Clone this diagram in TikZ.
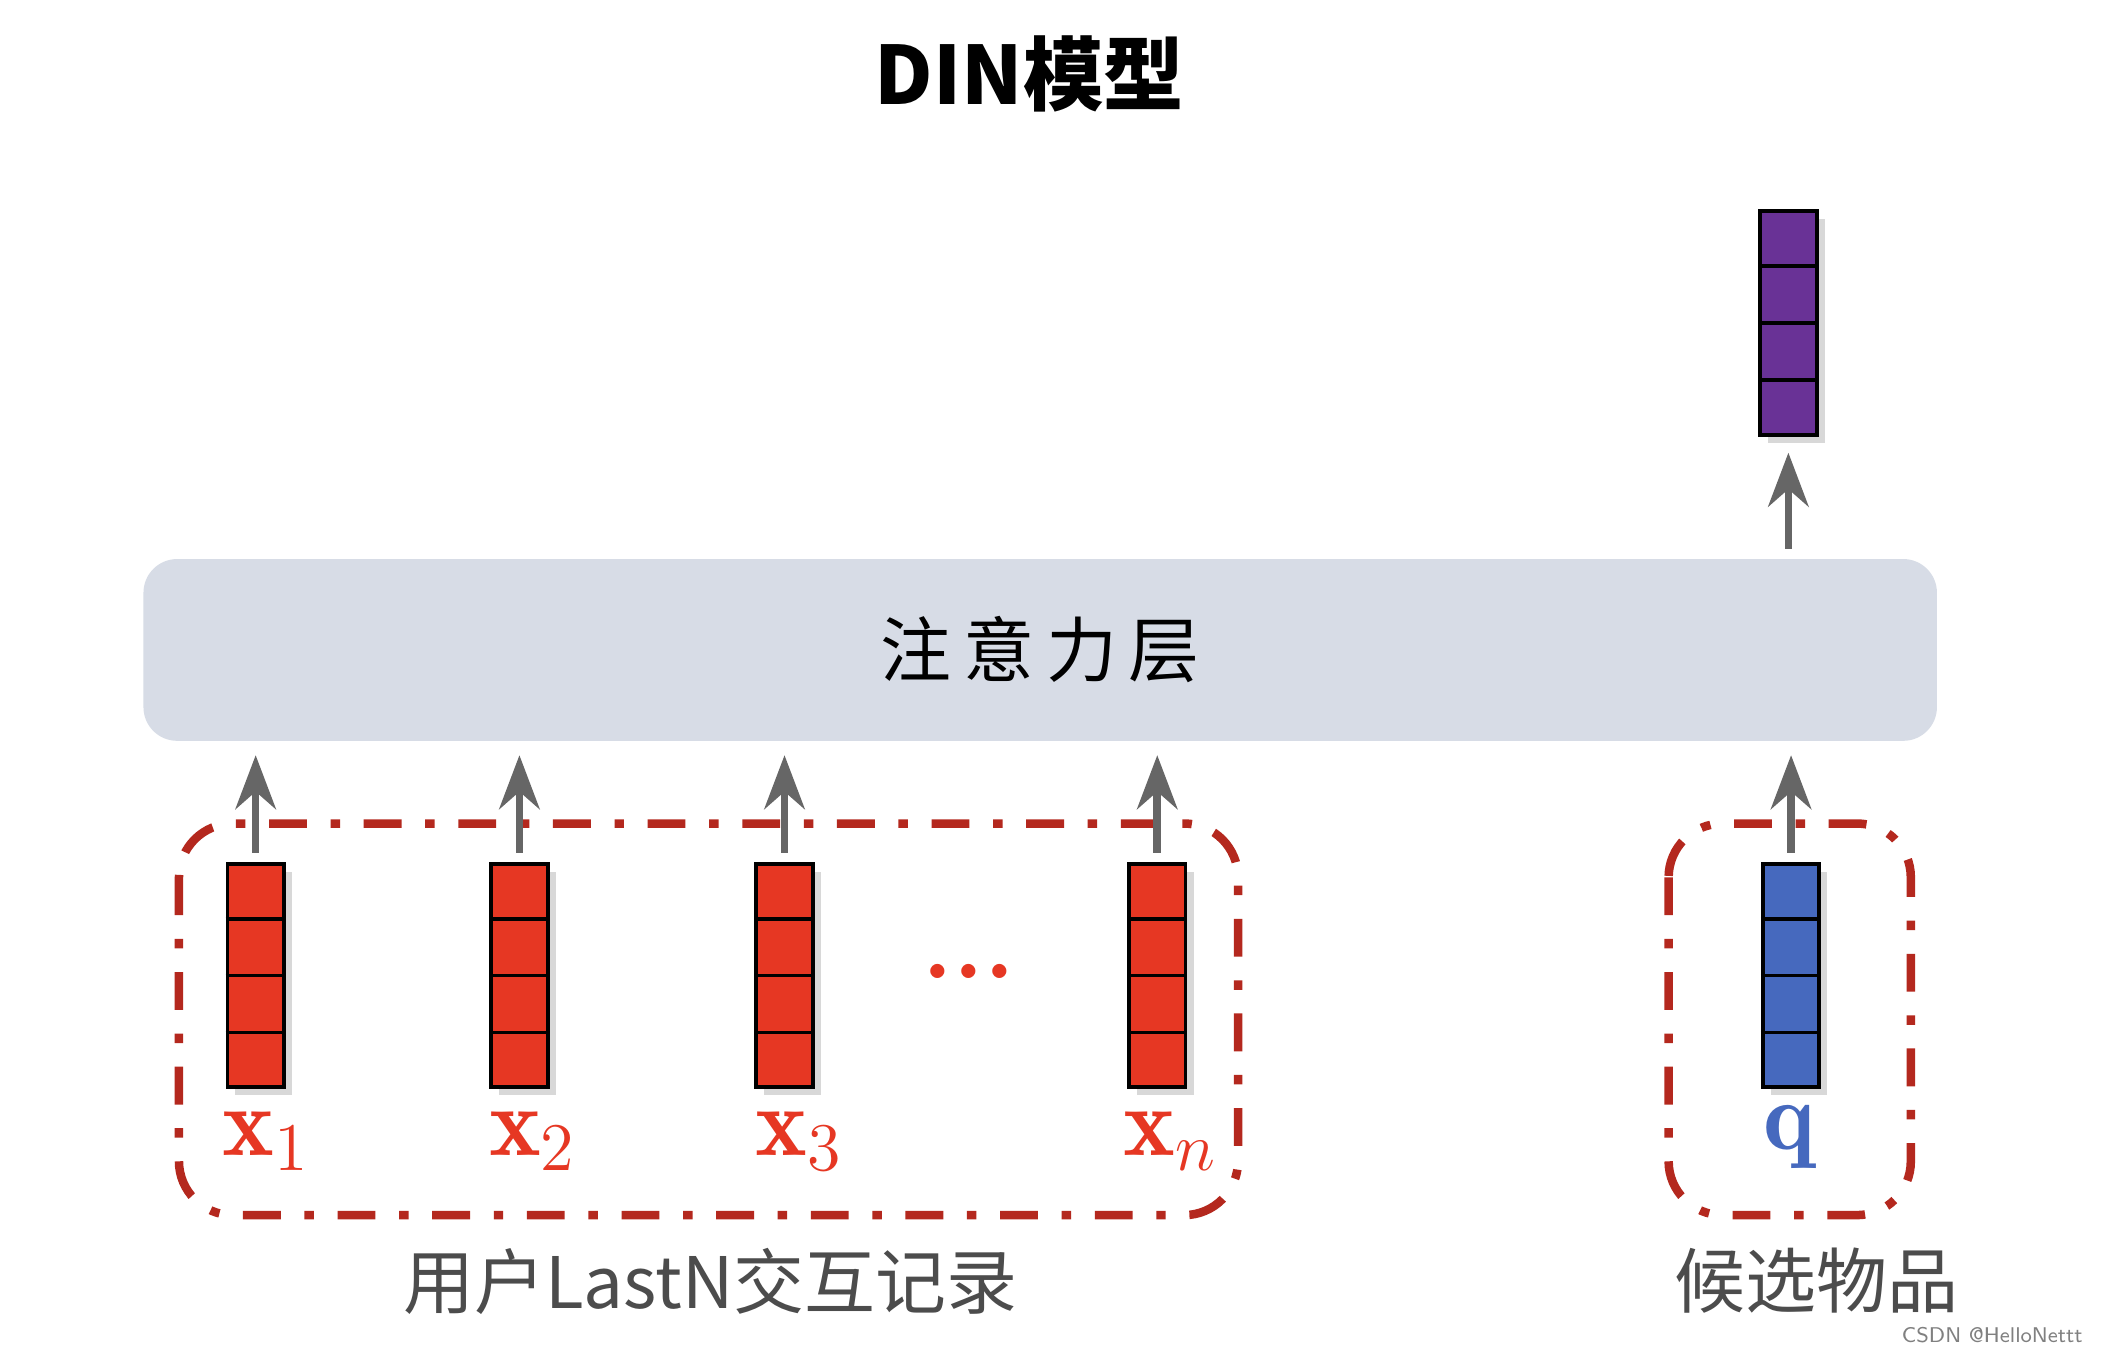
\documentclass[tikz,border=0pt]{standalone}
\usepackage{fontspec}
\newfontfamily\cjk{Noto Sans CJK SC}
\usetikzlibrary{arrows.meta,shadows,calc}
\definecolor{vecred}{RGB}{230,55,35}
\definecolor{vecblue}{RGB}{70,105,190}
\definecolor{vecpurple}{RGB}{105,50,150}
\definecolor{boxred}{RGB}{180,40,30}
\definecolor{layergray}{RGB}{215,220,230}
\begin{document}
\begin{tikzpicture}[x=0.01cm,y=-0.01cm,
	vec node/.style={draw=black, thick, minimum width=0.42cm, minimum height=1.66cm, inner sep=0pt, drop shadow={opacity=0.3,shadow xshift=0.6mm,shadow yshift=-0.6mm}},
	up arrow/.style={-{Stealth[length=4mm,width=3mm]}, line width=1.6pt, draw=black!60},
	group box/.style={draw=boxred, line width=1.8pt, rounded corners=0.4cm, dash pattern=on 8pt off 5pt on 2pt off 5pt},
	vec label/.style={font=\huge\bfseries}]
	\useasboundingbox[fill=white] (0,0) rectangle (1568,1004);
	% Title
	\node[font=\cjk\bfseries\fontsize{17}{17}\selectfont] (title) at (765,55) {DIN模型};
	
	% Attention layer
	\node[fill=layergray, rounded corners=0.25cm, minimum width=13.32cm, minimum height=1.35cm,
	      font=\cjk\fontsize{15}{15}\selectfont] (att) at (773,483) {注\,意\,力\,层};
	
	% Groups
	\draw[group box] (133,612) rectangle (920,903);
	\draw[group box] (1240,612) rectangle (1420,903);
	
	% Vectors
	\node[vec node, fill=vecred] (x1) at (190,725) {};
	\node[vec node, fill=vecred] (x2) at (386,725) {};
	\node[vec node, fill=vecred] (x3) at (583,725) {};
	\node[vec node, fill=vecred] (xn) at (860,725) {};
	\node[vec node, fill=vecblue] (q) at (1331,725) {};
	\node[vec node, fill=vecpurple] (out) at (1329,240) {};
	\foreach \v in {x1,x2,x3,xn,q,out}{
		\foreach \f in {0.25,0.5,0.75}
			\draw[thick] ($(\v.north west)!\f!(\v.south west)$) -- ($(\v.north east)!\f!(\v.south east)$);
	}
	\node[text=vecred, font=\huge\bfseries] (dots) at (720,722) {...};
	
	% Labels
	\node[vec label, text=vecred] (lx1) at (198,848) {$\mathbf{x}_1$};
	\node[vec label, text=vecred] (lx2) at (396,848) {$\mathbf{x}_2$};
	\node[vec label, text=vecred] (lx3) at (594,848) {$\mathbf{x}_3$};
	\node[vec label, text=vecred] (lxn) at (870,848) {$\mathbf{x}_n$};
	\node[vec label, text=vecblue] (lq) at (1330,845) {$\mathbf{q}$};
	
	% Arrows
	\draw[up arrow] ([yshift=0.07cm]x1.north) -- ([yshift=-0.1cm]x1.north |- att.south);
	\draw[up arrow] ([yshift=0.07cm]x2.north) -- ([yshift=-0.1cm]x2.north |- att.south);
	\draw[up arrow] ([yshift=0.07cm]x3.north) -- ([yshift=-0.1cm]x3.north |- att.south);
	\draw[up arrow] ([yshift=0.07cm]xn.north) -- ([yshift=-0.1cm]xn.north |- att.south);
	\draw[up arrow] ([yshift=0.07cm]q.north) -- ([yshift=-0.1cm]q.north |- att.south);
	\draw[up arrow] ([yshift=0.07cm]out.south |- att.north) -- ([yshift=-0.12cm]out.south);
	
	% Captions
	\node[text=black!70, font=\cjk\fontsize{15}{15}\selectfont] (hist) at (528,952) {用户LastN交互记录};
	\node[text=black!70, font=\cjk\fontsize{15}{15}\selectfont] (cand) at (1350,952) {候选物品};
	\node[text=black!50, font=\sffamily\fontsize{4.5}{5}\selectfont, anchor=east] (mark) at (1560,992) {CSDN @HelloNettt};
\end{tikzpicture}
\end{document}
